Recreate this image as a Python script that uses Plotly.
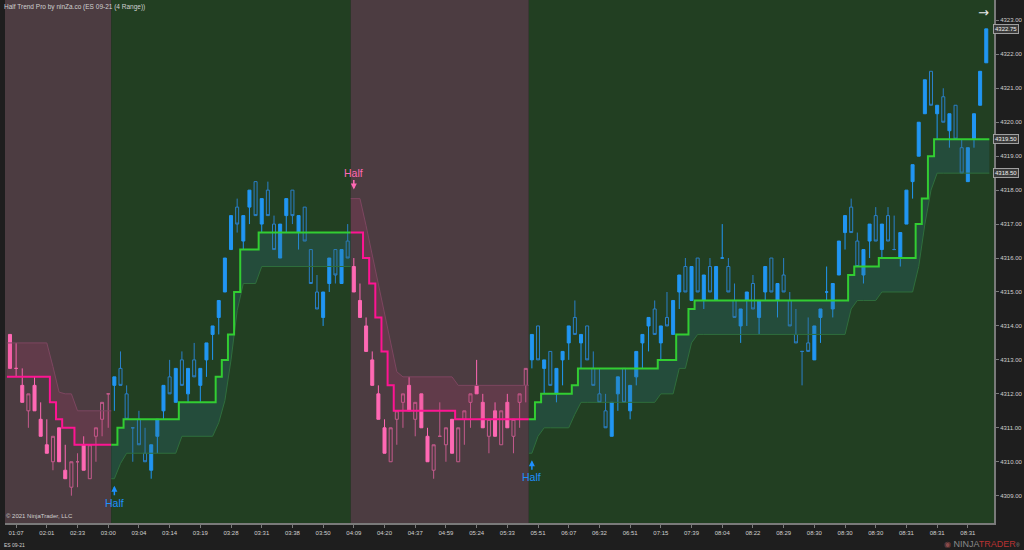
import plotly.graph_objects as go

# ---------------- data ----------------
tick_labels = ["01:07", "02:01", "02:33", "03:00", "03:04", "03:14", "03:19", "03:28",
               "03:31", "03:38", "03:50", "04:09", "04:20", "04:37", "04:59", "05:24",
               "05:33", "05:51", "06:07", "06:32", "06:51", "07:15", "07:39", "08:04",
               "08:22", "08:29", "08:30", "08:30", "08:30", "08:31", "08:31", "08:31"]
tick_bars = list(range(1, 160, 5))

bar_open = [
    4313.75, 4312.75, 4312.25, 4311.5, 4312.25, 4311.25, 4310.5, 4310.0, 4311.0, 4309.75,
    4309.25, 4310.0, 4310.5, 4309.5, 4310.75, 4311.25, 4312.0, 4312.25, 4312.75, 4312.0,
    4311.0, 4311.25, 4310.25, 4309.75, 4310.75, 4311.5, 4312.5, 4311.75, 4313.0, 4312.0,
    4313.0, 4312.25, 4313.0, 4313.75, 4314.25, 4315.0, 4316.25, 4317.5, 4316.5, 4317.5,
    4318.25, 4317.0, 4318.0, 4317.0, 4316.0, 4317.25, 4318.0, 4316.75, 4317.5, 4316.25,
    4315.0, 4314.25, 4315.25, 4316.25, 4315.25, 4316.5, 4315.75, 4314.75, 4314.0, 4313.0,
    4312.0, 4311.0, 4310.0, 4311.25, 4311.75, 4312.25, 4311.25, 4312.0, 4310.75, 4309.75,
    4310.75, 4310.5, 4311.25, 4310.0, 4311.25, 4311.75, 4312.25, 4311.75, 4310.75, 4311.5,
    4310.5, 4311.75, 4310.75, 4311.75, 4312.25, 4313.0, 4314.0, 4312.75, 4313.25, 4312.0,
    4313.0, 4313.5, 4314.25, 4313.5, 4314.0, 4312.75, 4312.0, 4311.5, 4310.75, 4312.0,
    4312.75, 4311.5, 4312.5, 4313.5, 4314.0, 4314.5, 4313.5, 4314.25, 4313.75, 4315.0,
    4315.75, 4314.75, 4316.0, 4314.75, 4315.75, 4314.75, 4316.0, 4315.75, 4314.75, 4314.0,
    4314.75, 4315.25, 4314.25, 4315.0, 4316.0, 4314.75, 4315.5, 4314.75, 4313.75, 4313.25,
    4313.5, 4313.0, 4314.25, 4315.0, 4314.5, 4315.5, 4316.75, 4317.5, 4316.5, 4315.5,
    4316.5, 4317.25, 4316.25, 4317.25, 4316.25, 4316.0, 4317.0, 4318.25, 4319.0, 4320.25,
    4321.5, 4320.25, 4320.75, 4319.75, 4320.5, 4319.25, 4318.25, 4319.5, 4320.5, 4321.75,
]
bar_high = [
    4313.75, 4313.5, 4312.75, 4312.0, 4312.5, 4311.75, 4311.25, 4310.75, 4311.0, 4310.5,
    4310.0, 4310.25, 4310.75, 4310.5, 4311.0, 4311.75, 4312.0, 4312.5, 4313.25, 4312.25,
    4311.0, 4311.5, 4311.0, 4310.5, 4311.25, 4312.25, 4313.0, 4312.75, 4313.25, 4312.75,
    4313.5, 4312.75, 4313.5, 4314.0, 4314.75, 4316.0, 4317.25, 4317.75, 4317.25, 4318.0,
    4318.25, 4317.75, 4318.25, 4317.25, 4317.0, 4317.75, 4318.0, 4317.25, 4317.5, 4316.25,
    4315.5, 4315.0, 4316.0, 4316.25, 4316.25, 4317.0, 4316.0, 4315.25, 4314.25, 4313.25,
    4312.25, 4311.25, 4311.0, 4311.5, 4312.0, 4312.5, 4311.75, 4312.0, 4311.0, 4310.5,
    4311.75, 4311.0, 4311.25, 4311.0, 4311.5, 4312.0, 4313.0, 4312.0, 4311.25, 4311.75,
    4311.5, 4312.0, 4311.25, 4312.0, 4312.75, 4313.75, 4314.0, 4313.0, 4313.25, 4312.75,
    4313.25, 4314.0, 4314.75, 4313.75, 4314.0, 4313.25, 4312.75, 4312.0, 4311.75, 4312.5,
    4312.75, 4312.25, 4313.25, 4313.75, 4314.25, 4314.75, 4314.0, 4315.0, 4314.75, 4315.5,
    4316.0, 4315.75, 4316.0, 4315.5, 4316.0, 4315.75, 4317.0, 4316.0, 4315.25, 4314.5,
    4315.0, 4315.5, 4314.75, 4315.75, 4316.0, 4315.25, 4316.0, 4315.0, 4314.5, 4313.25,
    4314.25, 4314.0, 4314.5, 4315.75, 4315.25, 4316.5, 4317.25, 4317.75, 4316.75, 4316.25,
    4317.0, 4317.5, 4317.0, 4317.5, 4317.25, 4316.75, 4318.0, 4318.75, 4320.0, 4321.25,
    4321.5, 4320.5, 4321.0, 4320.25, 4320.5, 4319.5, 4319.25, 4320.25, 4321.5, 4322.75,
]
bar_low = [
    4312.75, 4312.5, 4311.75, 4311.0, 4311.5, 4310.75, 4310.25, 4309.75, 4310.0, 4309.5,
    4309.0, 4309.25, 4309.75, 4309.5, 4310.0, 4310.75, 4311.0, 4311.5, 4312.25, 4311.25,
    4310.0, 4310.5, 4310.0, 4309.5, 4310.25, 4311.25, 4312.0, 4311.75, 4312.25, 4311.75,
    4312.5, 4311.75, 4312.5, 4313.0, 4313.75, 4315.0, 4316.25, 4316.75, 4316.25, 4317.0,
    4317.25, 4316.75, 4317.25, 4316.25, 4316.0, 4316.75, 4317.0, 4316.25, 4316.5, 4315.25,
    4314.5, 4314.0, 4315.0, 4315.25, 4315.25, 4316.0, 4315.0, 4314.25, 4313.25, 4312.25,
    4311.25, 4310.25, 4310.0, 4310.5, 4311.0, 4311.5, 4310.75, 4311.0, 4310.0, 4309.5,
    4310.75, 4310.0, 4310.25, 4310.0, 4310.5, 4311.0, 4312.0, 4311.0, 4310.25, 4310.75,
    4310.5, 4311.0, 4310.25, 4311.0, 4311.75, 4312.75, 4313.0, 4312.0, 4312.25, 4311.75,
    4312.25, 4313.0, 4313.75, 4312.75, 4313.0, 4312.25, 4311.75, 4311.0, 4310.75, 4311.5,
    4311.75, 4311.25, 4312.25, 4312.75, 4313.25, 4313.75, 4313.0, 4314.0, 4313.75, 4314.5,
    4315.0, 4314.75, 4315.0, 4314.5, 4315.0, 4314.75, 4316.0, 4315.0, 4314.25, 4313.5,
    4314.0, 4314.5, 4313.75, 4314.75, 4315.0, 4314.25, 4315.0, 4314.0, 4313.5, 4312.25,
    4313.25, 4313.0, 4313.5, 4314.75, 4314.25, 4315.5, 4316.25, 4316.75, 4315.75, 4315.25,
    4316.0, 4316.5, 4316.0, 4316.5, 4316.25, 4315.75, 4317.0, 4317.75, 4319.0, 4320.25,
    4320.5, 4319.5, 4320.0, 4319.25, 4319.5, 4318.5, 4318.25, 4319.25, 4320.5, 4321.75,
]
bar_close = [
    4312.75, 4312.75, 4311.75, 4312.0, 4311.5, 4310.75, 4310.25, 4310.75, 4310.0, 4309.5,
    4310.0, 4310.0, 4309.75, 4310.5, 4311.0, 4311.75, 4312.0, 4312.5, 4312.25, 4311.25,
    4311.0, 4310.5, 4310.0, 4310.5, 4311.25, 4312.25, 4312.0, 4312.75, 4312.25, 4312.75,
    4312.5, 4312.75, 4313.5, 4314.0, 4314.75, 4316.0, 4317.25, 4317.0, 4317.25, 4318.0,
    4317.25, 4317.75, 4317.25, 4316.25, 4317.0, 4317.75, 4317.25, 4317.25, 4316.5, 4315.25,
    4314.5, 4315.0, 4316.0, 4315.5, 4316.25, 4316.0, 4315.0, 4314.25, 4313.25, 4312.25,
    4311.25, 4310.25, 4311.0, 4311.5, 4312.0, 4311.5, 4311.75, 4311.0, 4310.0, 4310.5,
    4310.75, 4311.0, 4310.25, 4311.0, 4311.5, 4312.0, 4312.0, 4311.0, 4311.25, 4310.75,
    4311.5, 4311.0, 4311.25, 4312.0, 4312.75, 4313.75, 4313.0, 4313.0, 4312.25, 4312.75,
    4313.25, 4314.0, 4313.75, 4313.75, 4313.0, 4312.25, 4311.75, 4311.0, 4311.75, 4312.5,
    4311.75, 4312.25, 4313.25, 4313.75, 4314.25, 4313.75, 4314.0, 4314.0, 4314.75, 4315.5,
    4315.0, 4315.75, 4315.0, 4315.5, 4315.0, 4315.75, 4316.0, 4315.0, 4314.25, 4314.5,
    4315.0, 4314.5, 4314.75, 4315.75, 4315.0, 4315.25, 4315.0, 4314.0, 4313.5, 4313.25,
    4313.25, 4314.0, 4314.5, 4315.0, 4315.25, 4316.5, 4317.25, 4316.75, 4315.75, 4316.25,
    4317.0, 4316.5, 4317.0, 4316.5, 4316.25, 4316.75, 4318.0, 4318.75, 4320.0, 4321.25,
    4320.5, 4320.5, 4320.0, 4320.25, 4319.5, 4318.5, 4319.25, 4320.25, 4321.5, 4322.75,
]
# Half Trend line (stepped) and its ATR band edge
half_trend = [
    4312.5, 4312.5, 4312.5, 4312.5, 4312.5, 4312.5, 4312.5, 4311.75, 4311.25, 4311.0,
    4311.0, 4310.5, 4310.5, 4310.5, 4310.5, 4310.5, 4310.5, 4310.5, 4311.0, 4311.25,
    4311.25, 4311.25, 4311.25, 4311.25, 4311.25, 4311.25, 4311.25, 4311.25, 4311.75, 4311.75,
    4311.75, 4311.75, 4311.75, 4311.75, 4312.5, 4313.0, 4313.75, 4315.0, 4316.25, 4316.25,
    4316.25, 4316.75, 4316.75, 4316.75, 4316.75, 4316.75, 4316.75, 4316.75, 4316.75, 4316.75,
    4316.75, 4316.75, 4316.75, 4316.75, 4316.75, 4316.75, 4316.75, 4316.75, 4316.0, 4315.25,
    4314.25, 4313.25, 4312.25, 4311.5, 4311.5, 4311.5, 4311.5, 4311.5, 4311.5, 4311.5,
    4311.5, 4311.5, 4311.5, 4311.25, 4311.25, 4311.25, 4311.25, 4311.25, 4311.25, 4311.25,
    4311.25, 4311.25, 4311.25, 4311.25, 4311.25, 4311.25, 4311.75, 4312.0, 4312.0, 4312.0,
    4312.0, 4312.0, 4312.25, 4312.75, 4312.75, 4312.75, 4312.75, 4312.75, 4312.75, 4312.75,
    4312.75, 4312.75, 4312.75, 4312.75, 4312.75, 4312.75, 4313.0, 4313.0, 4313.0, 4313.75,
    4313.75, 4314.5, 4314.75, 4314.75, 4314.75, 4314.75, 4314.75, 4314.75, 4314.75, 4314.75,
    4314.75, 4314.75, 4314.75, 4314.75, 4314.75, 4314.75, 4314.75, 4314.75, 4314.75, 4314.75,
    4314.75, 4314.75, 4314.75, 4314.75, 4314.75, 4314.75, 4314.75, 4315.5, 4315.75, 4315.75,
    4315.75, 4315.75, 4316.0, 4316.0, 4316.0, 4316.0, 4316.0, 4316.0, 4317.0, 4317.75,
    4319.0, 4319.5, 4319.5, 4319.5, 4319.5, 4319.5, 4319.5, 4319.5, 4319.5, 4319.5,
]
band_edge = [
    4313.5, 4313.5, 4313.5, 4313.5, 4313.5, 4313.5, 4313.5, 4312.8, 4312.05, 4312.0,
    4312.0, 4311.5, 4311.5, 4311.5, 4311.5, 4311.5, 4311.5, 4309.5, 4309.95, 4310.25,
    4310.25, 4310.25, 4310.25, 4310.25, 4310.25, 4310.25, 4310.25, 4310.25, 4310.75, 4310.75,
    4310.75, 4310.75, 4310.75, 4310.75, 4311.15, 4311.8, 4313.0, 4314.45, 4315.25, 4315.25,
    4315.25, 4315.75, 4315.75, 4315.75, 4315.75, 4315.75, 4315.75, 4315.75, 4315.75, 4315.75,
    4315.75, 4315.75, 4315.75, 4315.75, 4315.75, 4315.75, 4317.75, 4317.75, 4316.95, 4316.1,
    4315.2, 4314.35, 4313.5, 4312.65, 4312.5, 4312.5, 4312.5, 4312.5, 4312.5, 4312.5,
    4312.5, 4312.5, 4312.5, 4312.25, 4312.25, 4312.25, 4312.25, 4312.25, 4312.25, 4312.25,
    4312.25, 4312.25, 4312.25, 4312.25, 4312.25, 4310.25, 4310.75, 4311.0, 4311.0, 4311.0,
    4311.0, 4311.0, 4311.4, 4311.75, 4311.75, 4311.75, 4311.75, 4311.75, 4311.75, 4311.75,
    4311.75, 4311.75, 4311.75, 4311.75, 4311.75, 4311.75, 4312.0, 4312.0, 4312.0, 4312.75,
    4312.75, 4313.5, 4313.75, 4313.75, 4313.75, 4313.75, 4313.75, 4313.75, 4313.75, 4313.75,
    4313.75, 4313.75, 4313.75, 4313.75, 4313.75, 4313.75, 4313.75, 4313.75, 4313.75, 4313.75,
    4313.75, 4313.75, 4313.75, 4313.75, 4313.75, 4313.75, 4313.75, 4314.5, 4314.75, 4314.75,
    4314.75, 4314.75, 4315.0, 4315.0, 4315.0, 4315.0, 4315.0, 4315.0, 4315.75, 4317.0,
    4318.0, 4318.5, 4318.5, 4318.5, 4318.5, 4318.5, 4318.5, 4318.5, 4318.5, 4318.5,
]
segment_start = [0, 17, 56, 85]
segment_trend = ["down", "up", "down", "up"]

# ---------------- styling ----------------
FONT = "Liberation Sans"
BG_UP, BG_DN = "#223f22", "#4c3c41"
UP_FILL, UP_HOLLOW = "#2196f3", "#2a7fc9"
DN_FILL, DN_HOLLOW = "#ff69b4", "#c45a8c"
HT_UP, HT_DN = "#32cd32", "#ff1493"
BAND_UP_LINE, BAND_DN_LINE = "#2f6e3c", "#7d4660"
BAND_UP_FILL, BAND_DN_FILL = "rgba(45,110,130,0.27)", "rgba(200,60,120,0.17)"
SIG_UP, SIG_DN = "#1e90ff", "#ff69b4"
AXIS = "#7a7a7a"
TXT = "#d0d0d0"

n = len(bar_open)
segment_end = segment_start[1:] + [n]
trend_of = [None] * n
for s, e, t in zip(segment_start, segment_end, segment_trend):
    for i in range(s, e):
        trend_of[i] = t

fig = go.Figure()

# background per trend segment
for s, e, t in zip(segment_start, segment_end, segment_trend):
    fig.add_shape(type="rect", xref="x", yref="paper",
                  x0=(s - 0.5) if s > 0 else -2, x1=(e - 0.5) if e < n else n + 2,
                  y0=0, y1=1, fillcolor=BG_UP if t == "up" else BG_DN,
                  line_width=0, layer="below")

# candles
for t in ["down", "up"]:
    idx = [i for i in range(n) if trend_of[i] == t]
    if t == "up":
        inc = dict(fillcolor=UP_FILL, line=dict(color=UP_FILL, width=1))
        dec = dict(fillcolor="rgba(0,0,0,0)", line=dict(color=UP_HOLLOW, width=1))
    else:
        inc = dict(fillcolor="rgba(0,0,0,0)", line=dict(color=DN_HOLLOW, width=1))
        dec = dict(fillcolor=DN_FILL, line=dict(color=DN_FILL, width=1))
    fig.add_trace(go.Candlestick(
        x=idx,
        open=[bar_open[i] for i in idx], high=[bar_high[i] for i in idx],
        low=[bar_low[i] for i in idx], close=[bar_close[i] for i in idx],
        increasing=inc, decreasing=dec, whiskerwidth=0, showlegend=False,
        hoverinfo="skip"))

# band + half trend line per segment
for s, e, t in zip(segment_start, segment_end, segment_trend):
    up = t == "up"
    bx = [s - 0.5] + list(range(s, e)) + [e - 0.5]
    by = [band_edge[s]] + band_edge[s:e] + [band_edge[e - 1]]
    fig.add_trace(go.Scatter(x=bx, y=by, mode="lines",
                             line=dict(color=BAND_UP_LINE if up else BAND_DN_LINE, width=1),
                             showlegend=False, hoverinfo="skip"))
    hx = [i - 0.5 for i in range(s, e)] + [e - 0.5]
    hy = half_trend[s:e] + [half_trend[e - 1]]
    fig.add_trace(go.Scatter(x=hx, y=hy, mode="lines", line_shape="hv",
                             line=dict(color=HT_UP if up else HT_DN, width=2),
                             fill="tonexty", fillcolor=BAND_UP_FILL if up else BAND_DN_FILL,
                             showlegend=False, hoverinfo="skip"))

# signal markers
for s, t in zip(segment_start[1:], segment_trend[1:]):
    up = t == "up"
    col = SIG_UP if up else SIG_DN
    fig.add_annotation(x=s, y=band_edge[s], xref="x", yref="y", text="Half",
                       showarrow=True, arrowhead=2, arrowsize=0.8, arrowwidth=1.5,
                       arrowcolor=col, ax=0, ay=17 if up else -17,
                       yshift=-7 if up else 9,
                       font=dict(size=10.5, color=col, family=FONT))

# price markers on the right axis
for v in [bar_close[-1], half_trend[-1], band_edge[-1]]:
    fig.add_annotation(x=1, xref="paper", y=v, yref="y", xanchor="left",
                       text=f"{v:.2f}", showarrow=False, xshift=-1,
                       font=dict(size=6, color="#f0f0f0", family=FONT),
                       bgcolor="#3a3a3a", bordercolor="#a0a0a0", borderwidth=1, borderpad=1)

# texts
fig.add_annotation(x=0, y=1, xref="paper", yref="paper", xanchor="left", yanchor="top",
                   xshift=-3, yshift=-1, showarrow=False,
                   text="Half Trend Pro by ninZa.co (ES 09-21 (4 Range))",
                   font=dict(size=6.5, color=TXT, family=FONT))
fig.add_annotation(x=0, y=0, xref="paper", yref="paper", xanchor="left", yanchor="bottom",
                   xshift=-1, yshift=2, showarrow=False, text="© 2021 NinjaTrader, LLC",
                   font=dict(size=6, color=TXT, family=FONT))
fig.add_annotation(x=0, y=0, xref="paper", yref="paper", xanchor="left", yanchor="top",
                   xshift=-3, yshift=-17, showarrow=False, text="ES 09-21",
                   font=dict(size=5, color=TXT, family=FONT))
fig.add_annotation(x=1, y=0, xref="paper", yref="paper", xanchor="right", yanchor="top",
                   xshift=28, yshift=-14, showarrow=False,
                   text="<span style='color:#8a4a4a;font-size:8px'>◉</span> "
                        "<span style='color:#8a8a8a'>NINJA</span><span style='color:#b83232'>TRADER</span>"
                        "<span style='color:#8a8a8a;font-size:5px'>®</span>",
                   font=dict(size=9, family=FONT))
fig.add_annotation(x=0.989, y=1, xref="paper", yref="paper", xanchor="center", yanchor="top",
                   yshift=-3, showarrow=False, text="→",
                   font=dict(size=13, color="#e8e8e8", family="DejaVu Sans"))

fig.update_layout(
    width=1024, height=550,
    margin=dict(l=5, r=30, t=0, b=27),
    paper_bgcolor="#1e1e1e", plot_bgcolor="#1e1e1e",
    showlegend=False,
    xaxis=dict(range=[-0.81, 160.26], tickmode="array", tickvals=tick_bars, ticktext=tick_labels,
               showgrid=False, zeroline=False, showline=True, linecolor=AXIS, linewidth=2,
               ticks="outside", ticklen=3, tickcolor=AXIS,
               tickfont=dict(size=6, color=TXT, family=FONT),
               rangeslider=dict(visible=False), fixedrange=True),
    yaxis=dict(side="right", range=[4308.196, 4323.6], tick0=4309, dtick=1, tickformat=".2f",
               showgrid=False, zeroline=False, showline=True, linecolor=AXIS, linewidth=2,
               ticks="outside", ticklen=3, tickcolor=AXIS,
               tickfont=dict(size=6, color=TXT, family=FONT), fixedrange=True),
)

fig.write_html("out.html", config={"displayModeBar": False},
               post_script="document.body.style.margin='0';document.body.style.padding='0';"
                           "document.body.style.overflow='hidden';")
